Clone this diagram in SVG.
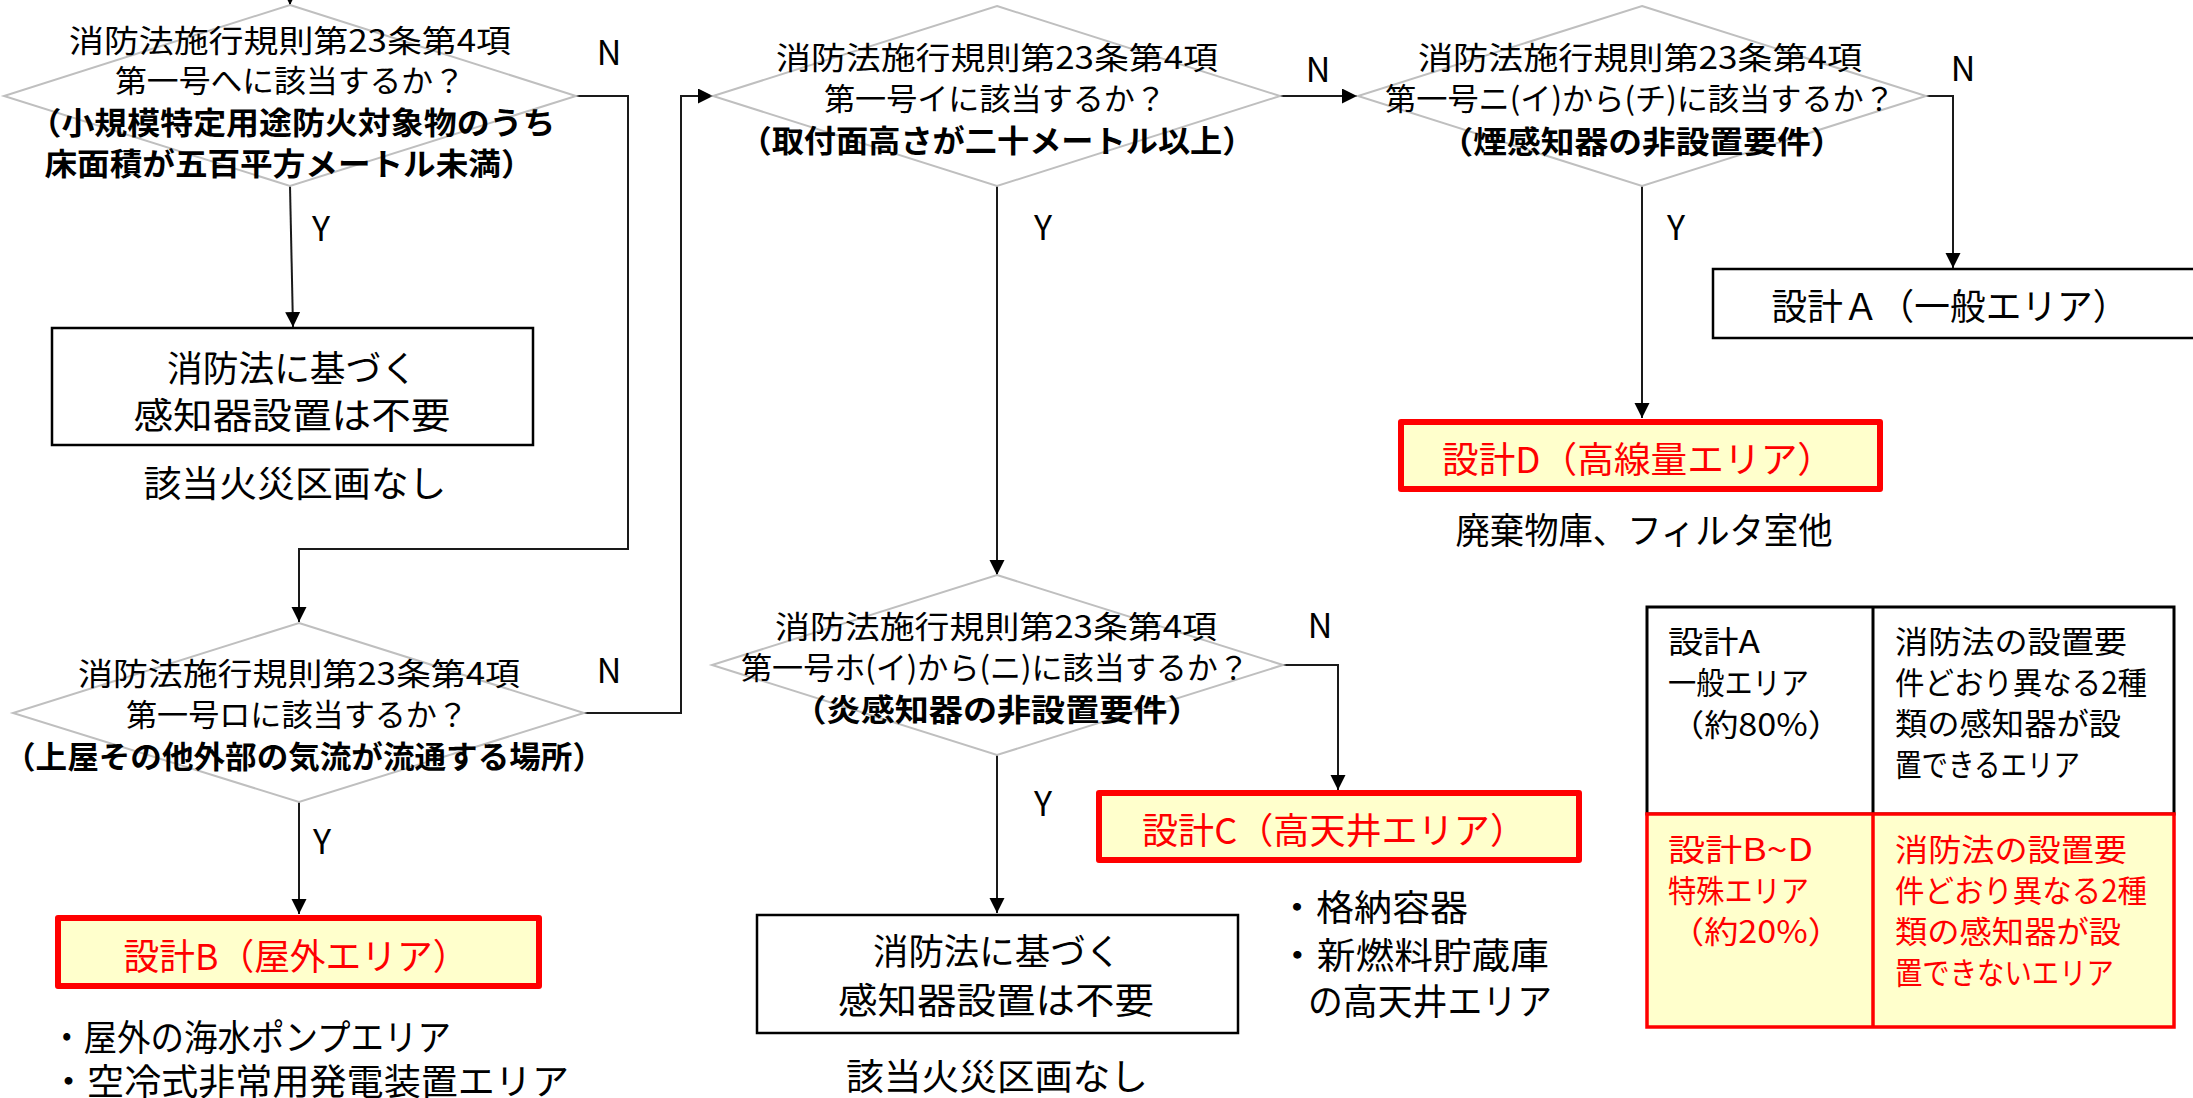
<svg xmlns="http://www.w3.org/2000/svg" width="2193" height="1098" viewBox="0 0 2193 1098">
<style>
text{font-family:"Noto Sans CJK JP","Noto Sans",sans-serif;dominant-baseline:central;fill:#000}
.d{font-size:31px}
.b{font-size:31px;font-weight:bold}
.bx{font-size:36px}
.yn{font-size:34px}
.tb{font-size:31px}
.red{fill:#FF0000}
.dia{fill:none;stroke:#BFBFBF;stroke-width:2}
.box{fill:#fff;stroke:#000;stroke-width:2.5}
.hl{fill:#FFFFCC;stroke:#FF0000;stroke-width:6;stroke-linejoin:round}
.ln{fill:none;stroke:#1a1a1a;stroke-width:2}
</style>
<defs>
<marker id="ah" markerUnits="userSpaceOnUse" markerWidth="16" markerHeight="16" refX="15" refY="7.5" orient="auto">
<path d="M0,0 L15,7.5 L0,15 z" fill="#000"/>
</marker>
</defs>
<rect width="2193" height="1098" fill="#fff"/>

<g id="connectors">
<path class="ln" d="M290,-20 L290,5" marker-end="url(#ah)"/>
<path class="ln" d="M290,186 L293,327" marker-end="url(#ah)"/>
<path class="ln" d="M576,96 L628,96 L628,549 L299,549 L299,622" marker-end="url(#ah)"/>
<path class="ln" d="M584,713 L681,713 L681,96 L713,96" marker-end="url(#ah)"/>
<path class="ln" d="M299,802 L299,914" marker-end="url(#ah)"/>
<path class="ln" d="M1280,96 L1357,96" marker-end="url(#ah)"/>
<path class="ln" d="M997,186 L997,575" marker-end="url(#ah)"/>
<path class="ln" d="M1926,96 L1953,96 L1953,268" marker-end="url(#ah)"/>
<path class="ln" d="M1642,186 L1642,418" marker-end="url(#ah)"/>
<path class="ln" d="M1283,665 L1338,665 L1338,790" marker-end="url(#ah)"/>
<path class="ln" d="M997,755 L997,913" marker-end="url(#ah)"/>
<text class="yn" x="609" y="50" text-anchor="middle">N</text>
<text class="yn" x="321" y="226" text-anchor="middle">Y</text>
<text class="yn" x="1318" y="67" text-anchor="middle">N</text>
<text class="yn" x="1043" y="225" text-anchor="middle">Y</text>
<text class="yn" x="1963" y="66" text-anchor="middle">N</text>
<text class="yn" x="1676" y="225" text-anchor="middle">Y</text>
<text class="yn" x="609" y="668" text-anchor="middle">N</text>
<text class="yn" x="322" y="839" text-anchor="middle">Y</text>
<text class="yn" x="1320" y="623" text-anchor="middle">N</text>
<text class="yn" x="1043" y="801" text-anchor="middle">Y</text>
</g>

<g id="d1">
<polygon class="dia" points="290,5 576,96 290,186 4,96"/>
<text class="d" x="290" y="38" text-anchor="middle" textLength="442" lengthAdjust="spacingAndGlyphs">消防法施行規則第23条第4項</text>
<text class="d" x="290" y="78" text-anchor="middle" textLength="350" lengthAdjust="spacingAndGlyphs">第一号へに該当するか？</text>
<text class="b" x="292" y="120" text-anchor="middle" textLength="527" lengthAdjust="spacingAndGlyphs">（小規模特定用途防火対象物のうち</text>
<text class="b" x="289" y="161" text-anchor="middle" textLength="489" lengthAdjust="spacingAndGlyphs">床面積が五百平方メートル未満）</text>
</g>

<g id="box1">
<rect class="box" x="52" y="328" width="481" height="117"/>
<text class="bx" x="292" y="366" text-anchor="middle" textLength="250" lengthAdjust="spacingAndGlyphs">消防法に基づく</text>
<text class="bx" x="292" y="413" text-anchor="middle" textLength="317" lengthAdjust="spacingAndGlyphs">感知器設置は不要</text>
</g>
<text class="bx" x="295" y="481" text-anchor="middle" textLength="303" lengthAdjust="spacingAndGlyphs">該当火災区画なし</text>

<g id="d2">
<polygon class="dia" points="997,6 1280,96 997,186 713,96"/>
<text class="d" x="997" y="55" text-anchor="middle" textLength="442" lengthAdjust="spacingAndGlyphs">消防法施行規則第23条第4項</text>
<text class="d" x="995" y="96" text-anchor="middle" textLength="342" lengthAdjust="spacingAndGlyphs">第一号イに該当するか？</text>
<text class="b" x="997" y="138" text-anchor="middle" textLength="515" lengthAdjust="spacingAndGlyphs">（取付面高さが二十メートル以上）</text>
</g>

<g id="d4">
<polygon class="dia" points="1642,6 1926,96 1642,186 1358,96"/>
<text class="d" x="1640" y="55" text-anchor="middle" textLength="444" lengthAdjust="spacingAndGlyphs">消防法施行規則第23条第4項</text>
<text class="d" x="1640" y="96" text-anchor="middle" textLength="510" lengthAdjust="spacingAndGlyphs">第一号ニ(イ)から(チ)に該当するか？</text>
<text class="b" x="1642" y="139" text-anchor="middle" textLength="405" lengthAdjust="spacingAndGlyphs">（煙感知器の非設置要件）</text>
</g>

<g id="boxA">
<rect class="box" x="1713" y="269" width="540" height="69"/>
<text class="bx" x="1950" y="304" text-anchor="middle" textLength="357" lengthAdjust="spacingAndGlyphs">設計Ａ（一般エリア）</text>
</g>

<g id="boxD">
<rect class="hl" x="1401" y="422" width="479" height="67"/>
<text class="bx red" x="1638" y="457" text-anchor="middle" textLength="392" lengthAdjust="spacingAndGlyphs">設計D（高線量エリア）</text>
</g>
<text class="bx" x="1644" y="528" text-anchor="middle" textLength="377" lengthAdjust="spacingAndGlyphs">廃棄物庫、フィルタ室他</text>

<g id="d3">
<polygon class="dia" points="299,623 584,713 299,802 13,713"/>
<text class="d" x="299" y="671" text-anchor="middle" textLength="442" lengthAdjust="spacingAndGlyphs">消防法施行規則第23条第4項</text>
<text class="d" x="297" y="712" text-anchor="middle" textLength="342" lengthAdjust="spacingAndGlyphs">第一号ロに該当するか？</text>
<text class="b" x="304" y="754" text-anchor="middle" textLength="600" lengthAdjust="spacingAndGlyphs">（上屋その他外部の気流が流通する場所）</text>
</g>

<g id="boxB">
<rect class="hl" x="58" y="918" width="481" height="68"/>
<text class="bx red" x="296" y="954" text-anchor="middle" textLength="345" lengthAdjust="spacingAndGlyphs">設計B（屋外エリア）</text>
</g>
<text class="bx" x="50" y="1035" textLength="401" lengthAdjust="spacingAndGlyphs">・屋外の海水ポンプエリア</text>
<text class="bx" x="50" y="1079" textLength="519" lengthAdjust="spacingAndGlyphs">・空冷式非常用発電装置エリア</text>

<g id="d5">
<polygon class="dia" points="997,575 1283,665 997,755 712,665"/>
<text class="d" x="996" y="624" text-anchor="middle" textLength="442" lengthAdjust="spacingAndGlyphs">消防法施行規則第23条第4項</text>
<text class="d" x="995" y="665" text-anchor="middle" textLength="508" lengthAdjust="spacingAndGlyphs">第一号ホ(イ)から(ニ)に該当するか？</text>
<text class="b" x="997" y="707" text-anchor="middle" textLength="409" lengthAdjust="spacingAndGlyphs">（炎感知器の非設置要件）</text>
</g>

<g id="boxC">
<rect class="hl" x="1099" y="793" width="480" height="67"/>
<text class="bx red" x="1334" y="828" text-anchor="middle" textLength="384" lengthAdjust="spacingAndGlyphs">設計C（高天井エリア）</text>
</g>
<text class="bx" x="1278" y="905" textLength="190" lengthAdjust="spacingAndGlyphs">・格納容器</text>
<text class="bx" x="1278" y="953" textLength="271" lengthAdjust="spacingAndGlyphs">・新燃料貯蔵庫</text>
<text class="bx" x="1308" y="999" textLength="244" lengthAdjust="spacingAndGlyphs">の高天井エリア</text>

<g id="boxE">
<rect class="box" x="757" y="915" width="481" height="118"/>
<text class="bx" x="997" y="949" text-anchor="middle" textLength="248" lengthAdjust="spacingAndGlyphs">消防法に基づく</text>
<text class="bx" x="996" y="998" text-anchor="middle" textLength="316" lengthAdjust="spacingAndGlyphs">感知器設置は不要</text>
</g>
<text class="bx" x="997" y="1074" text-anchor="middle" textLength="302" lengthAdjust="spacingAndGlyphs">該当火災区画なし</text>

<g id="table">
<rect x="1647" y="607" width="527" height="207" fill="#fff" stroke="#000" stroke-width="3"/>
<line x1="1873" y1="607" x2="1873" y2="814" stroke="#000" stroke-width="3"/>
<rect x="1647" y="814" width="527" height="213" fill="#FFFFCC" stroke="#FF0000" stroke-width="3.5"/>
<line x1="1873" y1="814" x2="1873" y2="1027" stroke="#FF0000" stroke-width="3.5"/>
<text class="tb" x="1668" y="639" textLength="92" lengthAdjust="spacingAndGlyphs">設計A</text>
<text class="tb" x="1668" y="680" textLength="141" lengthAdjust="spacingAndGlyphs">一般エリア</text>
<text class="tb" x="1670" y="722" textLength="172" lengthAdjust="spacingAndGlyphs">（約80%）</text>
<text class="tb" x="1895" y="639" textLength="232" lengthAdjust="spacingAndGlyphs">消防法の設置要</text>
<text class="tb" x="1895" y="680" textLength="252" lengthAdjust="spacingAndGlyphs">件どおり異なる2種</text>
<text class="tb" x="1895" y="721" textLength="226" lengthAdjust="spacingAndGlyphs">類の感知器が設</text>
<text class="tb" x="1895" y="762" textLength="185" lengthAdjust="spacingAndGlyphs">置できるエリア</text>
<text class="tb red" x="1668" y="847" textLength="145" lengthAdjust="spacingAndGlyphs">設計B~D</text>
<text class="tb red" x="1668" y="888" textLength="141" lengthAdjust="spacingAndGlyphs">特殊エリア</text>
<text class="tb red" x="1670" y="929" textLength="172" lengthAdjust="spacingAndGlyphs">（約20%）</text>
<text class="tb red" x="1895" y="847" textLength="232" lengthAdjust="spacingAndGlyphs">消防法の設置要</text>
<text class="tb red" x="1895" y="888" textLength="252" lengthAdjust="spacingAndGlyphs">件どおり異なる2種</text>
<text class="tb red" x="1895" y="929" textLength="226" lengthAdjust="spacingAndGlyphs">類の感知器が設</text>
<text class="tb red" x="1895" y="970" textLength="219" lengthAdjust="spacingAndGlyphs">置できないエリア</text>
</g>
</svg>
